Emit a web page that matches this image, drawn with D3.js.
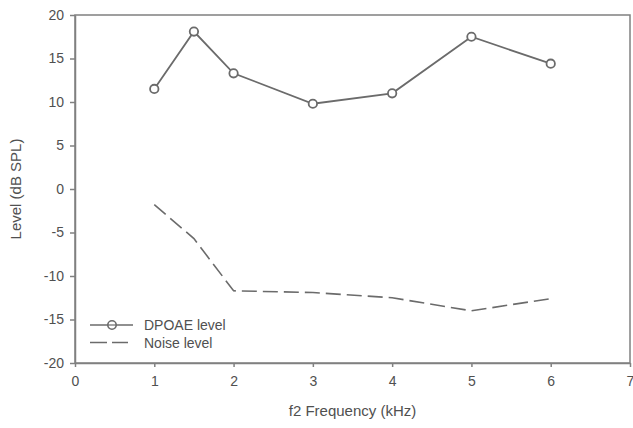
<!DOCTYPE html>
<html>
<head>
<meta charset="utf-8">
<script src="https://cdn.jsdelivr.net/npm/d3@7"></script>
<style>
  body { margin: 0; background: #fff; }
  text { font-family: "Liberation Sans", Arial, sans-serif; fill: #505050; }
</style>
</head>
<body>
<div id="chart"></div>
<script>
// chart values
const freqs = [1, 1.5, 2, 3, 4, 5, 6]
const dpoaeLevel = [11.5, 18.1, 13.3, 9.8, 11.0, 17.5, 14.4]
const noiseLevel = [-1.8, -5.7, -11.7, -11.9, -12.5, -14.0, -12.6]
const xTicks = [0, 1, 2, 3, 4, 5, 6, 7]
const yTicks = [20, 15, 10, 5, 0, -5, -10, -15, -20]
const seriesNames = ["DPOAE level", "Noise level"]

const width = 633
const height = 428
const margin = {top: 15, right: 3, bottom: 65, left: 75}
const lineColor = "#6b6b6b"
const axisColor = "#808080"

let svg = d3.select("#chart")
            .append("svg")
            .attr("width", width)
            .attr("height", height)

let xScale = d3.scaleLinear()
               .domain([0, 7])
               .range([margin.left, width - margin.right])

let yScale = d3.scaleLinear()
               .domain([-20, 20])
               .range([height - margin.bottom, margin.top])

// frame (top and right)
svg.append("rect")
   .attr("x", xScale(0))
   .attr("y", yScale(20))
   .attr("width", xScale(7) - xScale(0))
   .attr("height", yScale(-20) - yScale(20))
   .attr("fill", "none")
   .attr("stroke", axisColor)
   .attr("stroke-width", 1.5)

let xAxis = d3.axisBottom(xScale)
              .tickValues(xTicks)
              .tickFormat(d => String(d))
              .tickSizeInner(4)
              .tickSizeOuter(0)
              .tickPadding(9)

let gx = svg.append("g")
   .attr("transform", `translate(0, ${yScale(-20)})`)
   .call(xAxis)

let yAxis = d3.axisLeft(yScale)
              .tickValues(yTicks)
              .tickFormat(d => String(d))
              .tickSizeInner(5)
              .tickSizeOuter(0)
              .tickPadding(6)

let gy = svg.append("g")
   .attr("transform", `translate(${xScale(0)}, 0)`)
   .call(yAxis)

for (let g of [gx, gy]) {
  g.select(".domain").attr("stroke", axisColor).attr("stroke-width", 1.5)
  g.selectAll(".tick line").attr("stroke", axisColor).attr("stroke-width", 1.5)
  g.selectAll(".tick text")
   .attr("fill", "#505050")
   .style("font-size", "14px")
   .style("font-family", "'Liberation Sans', Arial, sans-serif")
}

// axis titles
svg.append("text")
   .attr("x", (xScale(0) + xScale(7)) / 2)
   .attr("y", 416)
   .attr("text-anchor", "middle")
   .style("font-size", "15px")
   .text("f2 Frequency (kHz)")

svg.append("text")
   .attr("transform", `translate(21, ${(yScale(20) + yScale(-20)) / 2}) rotate(-90)`)
   .attr("text-anchor", "middle")
   .style("font-size", "15px")
   .text("Level (dB SPL)")

let line = d3.line()
             .x((d, i) => xScale(freqs[i]))
             .y(d => yScale(d))

// noise (dashed)
svg.append("path")
   .datum(noiseLevel)
   .attr("d", line)
   .attr("fill", "none")
   .attr("stroke", lineColor)
   .attr("stroke-width", 1.6)
   .attr("stroke-dasharray", "15,6")

// dpoae (solid with open circles)
svg.append("path")
   .datum(dpoaeLevel)
   .attr("d", line)
   .attr("fill", "none")
   .attr("stroke", lineColor)
   .attr("stroke-width", 1.8)

svg.selectAll("circle.pt")
   .data(dpoaeLevel)
   .enter()
   .append("circle")
   .attr("class", "pt")
   .attr("cx", (d, i) => xScale(freqs[i]))
   .attr("cy", d => yScale(d))
   .attr("r", 4.2)
   .attr("fill", "#fff")
   .attr("stroke", lineColor)
   .attr("stroke-width", 1.8)

// legend
let legend = svg.append("g").attr("transform", "translate(90, 325)")

legend.append("line")
      .attr("x1", 0).attr("x2", 43)
      .attr("y1", 0).attr("y2", 0)
      .attr("stroke", lineColor)
      .attr("stroke-width", 1.6)
legend.append("circle")
      .attr("cx", 22).attr("cy", 0).attr("r", 4.2)
      .attr("fill", "#fff")
      .attr("stroke", lineColor)
      .attr("stroke-width", 1.6)
legend.append("line")
      .attr("x1", 18).attr("x2", 26)
      .attr("y1", 0).attr("y2", 0)
      .attr("stroke", lineColor)
      .attr("stroke-width", 1.2)

legend.append("line")
      .attr("x1", 0).attr("x2", 38)
      .attr("y1", 17.5).attr("y2", 17.5)
      .attr("stroke", lineColor)
      .attr("stroke-width", 1.6)
      .attr("stroke-dasharray", "17,5")

legend.selectAll("text.lbl")
      .data(seriesNames)
      .enter()
      .append("text")
      .attr("class", "lbl")
      .attr("x", 54)
      .attr("y", (d, i) => i * 17.5 + 5)
      .style("font-size", "14px")
      .text(d => d)
</script>
</body>
</html>
